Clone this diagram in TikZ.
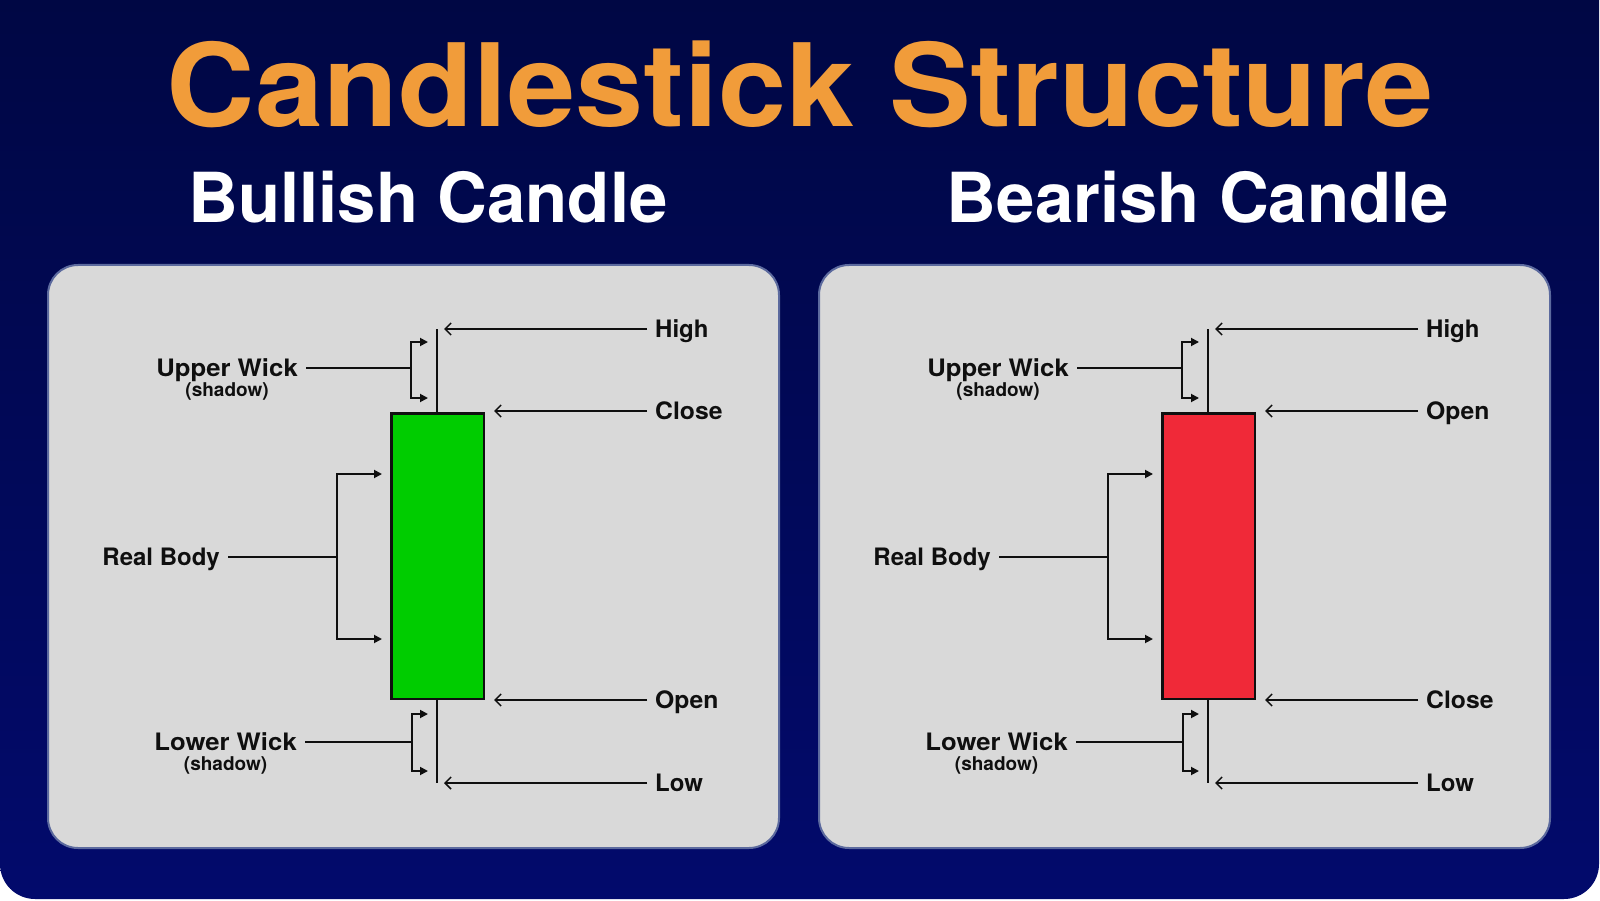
\documentclass[tikz,border=0pt]{standalone}
\usepackage{fontspec}
\usepackage{graphicx}
\setmainfont{TeX Gyre Heros}
\usetikzlibrary{arrows.meta}
\definecolor{bgtop}{RGB}{0,7,68}
\definecolor{bgbot}{RGB}{2,10,108}
\definecolor{titleor}{RGB}{241,156,58}
\definecolor{panelfill}{RGB}{217,217,217}
\definecolor{panelline}{RGB}{92,106,158}
\definecolor{bullg}{RGB}{0,204,0}
\definecolor{bearr}{RGB}{240,41,56}
\definecolor{ink}{RGB}{15,15,15}

\tikzset{
  panel/.style={fill=panelfill, draw=panelline, line width=2pt, rounded corners=30pt},
  lbl/.style={inner sep=0pt, text=ink, font=\bfseries\fontsize{24}{28}\selectfont, text height=17.2pt, text depth=0pt},
  shlbl/.style={inner sep=0pt, text=ink, font=\bfseries\fontsize{19}{21}\selectfont},
  pointer/.style={draw=ink, line width=1.5pt, -{Straight Barb[length=6pt,width=12pt,line width=1.5pt]}},
  feeder/.style={draw=ink, line width=1.5pt},
  bracket/.style={draw=ink, line width=1.8pt, -{Triangle[length=8pt,width=8pt]}},
  wickline/.style={draw=ink, line width=2.5pt},
  candlebody/.style={draw=ink, line width=2.5pt, inner sep=0pt, minimum width=92.5pt, minimum height=285.5pt},
  heading/.style={inner sep=0pt, anchor=base, text=white, font=\bfseries\fontsize{69}{74}\selectfont}
}

\newcommand{\widetext}[1]{\scalebox{1.07}[1]{#1}}

% #1 prefix, #2 xshift, #3 body colour, #4 label at body top, #5 label at body bottom
\newcommand{\candlepanel}[5]{%
\begin{scope}[xshift=#2pt]
  \filldraw[panel] (48,265) rectangle (779,848);
  % wick and body
  \coordinate (#1wt) at (437,329);
  \coordinate (#1wb) at (437,783);
  \draw[wickline] (#1wt) -- (#1wb);
  \node[candlebody, fill=#3] (#1body) at (437.5,556) {};
  % right labels
  \node[lbl, anchor=west] (#1hl) at (655,329) {High};
  \node[lbl, anchor=west] (#1tl) at (655,411) {\scalebox{1.03}[1]{#4}};
  \node[lbl, anchor=west] (#1bl) at (655,700) {\scalebox{1.03}[1]{#5}};
  \node[lbl, anchor=west] (#1ll) at (655,783) {Low};
  \coordinate (#1htip) at (444,329);
  \coordinate (#1ttip) at (494,411);
  \coordinate (#1btip) at (494,700);
  \coordinate (#1ltip) at (444,783);
  \draw[pointer] ([xshift=-8pt]#1hl.west) -- (#1htip);
  \draw[pointer] ([xshift=-8pt]#1tl.west) -- (#1ttip);
  \draw[pointer] ([xshift=-8pt]#1bl.west) -- (#1btip);
  \draw[pointer] ([xshift=-8pt]#1ll.west) -- (#1ltip);
  % upper wick
  \node[lbl, anchor=east] (#1uw) at (298,368) {\widetext{Upper Wick}};
  \node[shlbl, anchor=base] (#1uws) at ([yshift=-20pt]#1uw.base) {(shadow)};
  \coordinate (#1ubj) at (411,368);
  \coordinate (#1ubt) at (428,342);
  \coordinate (#1ubb) at (428,398);
  \draw[feeder] ([xshift=8pt]#1uw.east) -- (#1ubj);
  \draw[bracket] (#1ubj) |- (#1ubt);
  \draw[bracket] (#1ubj) |- (#1ubb);
  % lower wick
  \node[lbl, anchor=east] (#1lw) at (297,742) {\widetext{Lower Wick}};
  \node[shlbl, anchor=base] (#1lws) at ([yshift=-20pt]#1lw.base) {(shadow)};
  \coordinate (#1lbj) at (412,742);
  \coordinate (#1lbt) at (428,714);
  \coordinate (#1lbb) at (428,771);
  \draw[feeder] ([xshift=8pt]#1lw.east) -- (#1lbj);
  \draw[bracket] (#1lbj) |- (#1lbt);
  \draw[bracket] (#1lbj) |- (#1lbb);
  % real body
  \node[lbl, anchor=east] (#1rb) at (220,557) {Real Body};
  \coordinate (#1rbj) at (337,557);
  \coordinate (#1rbt) at (382,474);
  \coordinate (#1rbb) at (382,639);
  \draw[feeder] ([xshift=8pt]#1rb.east) -- (#1rbj);
  \draw[bracket] (#1rbj) |- (#1rbt);
  \draw[bracket] (#1rbj) |- (#1rbb);
\end{scope}}

\begin{document}
\begin{tikzpicture}[x=1pt, y=-1pt]
  \useasboundingbox (0,0) rectangle (1600,901);
  \fill[white] (0,0) rectangle (1600,901);
  \shade[top color=bgtop, bottom color=bgbot]
     (0,0) rectangle (1599,450)
     [rounded corners=35pt] (0,0) rectangle (1599,899);
  \node[inner sep=0pt, anchor=base, text=titleor, font=\bfseries\fontsize{115}{120}\selectfont]
     (title) at (800.5,127) {\scalebox{1.065}[1]{Candlestick Structure}};
  \node[heading] (bullhead) at (428,223) {Bullish Candle};
  \node[heading] (bearhead) at (1198,223) {Bearish Candle};
  \candlepanel{a}{0}{bullg}{Close}{Open}
  \candlepanel{b}{771}{bearr}{Open}{Close}
\end{tikzpicture}
\end{document}
